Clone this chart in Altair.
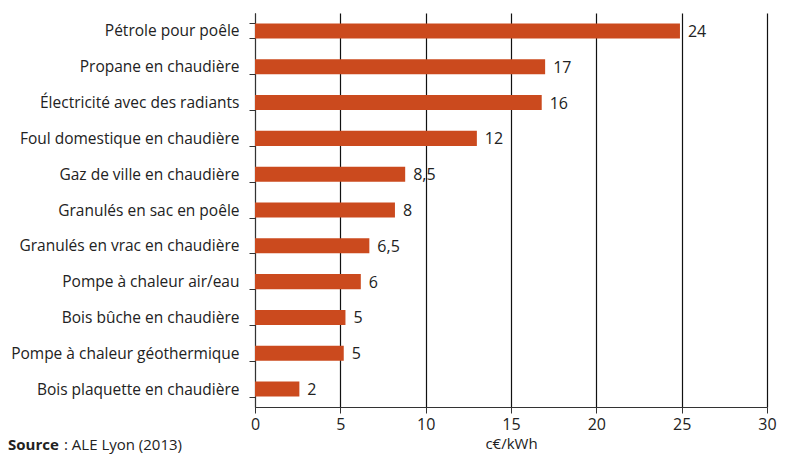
import altair as alt
import pandas as pd

categories = [
    "Pétrole pour poêle",
    "Propane en chaudière",
    "Électricité avec des radiants",
    "Foul domestique en chaudière",
    "Gaz de ville en chaudière",
    "Granulés en sac en poêle",
    "Granulés en vrac en chaudière",
    "Pompe à chaleur air/eau",
    "Bois bûche en chaudière",
    "Pompe à chaleur géothermique",
    "Bois plaquette en chaudière",
]
bar_lengths = [24.9, 17.0, 16.8, 13.0, 8.8, 8.2, 6.7, 6.2, 5.3, 5.2, 2.6]
value_labels = ["24", "17", "16", "12", "8,5", "8", "6,5", "6", "5", "5", "2"]

x_ticks = [0, 5, 10, 15, 20, 25, 30]

df = pd.DataFrame({"cat": categories, "val": bar_lengths, "lab": value_labels})

FONT = "Open Sans"
COLOR = "#CB4A1E"

y_enc = alt.Y(
    "cat:N",
    sort=categories,
    title=None,
    scale=alt.Scale(paddingInner=0.58, paddingOuter=0.29),
    axis=alt.Axis(
        tickBand="extent",
        tickSize=6,
        tickColor="#333",
        domainColor="#333",
        labelFontSize=15.5,
        labelColor="#222",
        labelFont=FONT,
        labelPadding=10,
        labelLimit=0,
        grid=False,
    ),
)

x_enc = alt.X(
    "val:Q",
    title="c€/kWh",
    scale=alt.Scale(domain=[0, 30], nice=False),
    axis=alt.Axis(
        values=x_ticks,
        grid=True,
        gridColor="#111",
        gridWidth=1.2,
        gridOpacity=1,
        domainColor="#333",
        tickColor="#333",
        tickSize=6,
        labelFontSize=16,
        labelColor="#222",
        labelFont=FONT,
        labelPadding=3,
        labelFlush=False,
        titleFont=FONT,
        titleFontSize=15,
        titleFontWeight="normal",
        titleColor="#222",
        titlePadding=4,
    ),
)

bars = alt.Chart(df).mark_bar(color=COLOR).encode(y=y_enc, x=x_enc)

texts = alt.Chart(df).mark_text(
    align="left", baseline="middle", dx=8, dy=1, fontSize=16, font=FONT, color="#222"
).encode(y=alt.Y("cat:N", sort=categories), x="val:Q", text="lab:N")

src_df = pd.DataFrame({"t1": ["Source"], "t2": [": ALE Lyon (2013)"]})
src_bold = alt.Chart(src_df).mark_text(
    align="left", baseline="alphabetic", fontSize=15, font=FONT, fontWeight="bold", color="#222"
).encode(x=alt.value(-247), y=alt.value(437), text="t1:N")
src_rest = alt.Chart(src_df).mark_text(
    align="left", baseline="alphabetic", fontSize=15, font=FONT, color="#222"
).encode(x=alt.value(-191), y=alt.value(437), text="t2:N")

chart = (
    alt.layer(bars, texts, src_bold, src_rest)
    .properties(
        width=512,
        height=394,
        autosize=alt.AutoSizeParams(type="none"),
        padding={"left": 247, "top": 5, "right": 11, "bottom": 49},
    )
    .configure_view(stroke=None)
)

chart.save("out.html", embed_options={"renderer": "svg", "actions": False})
